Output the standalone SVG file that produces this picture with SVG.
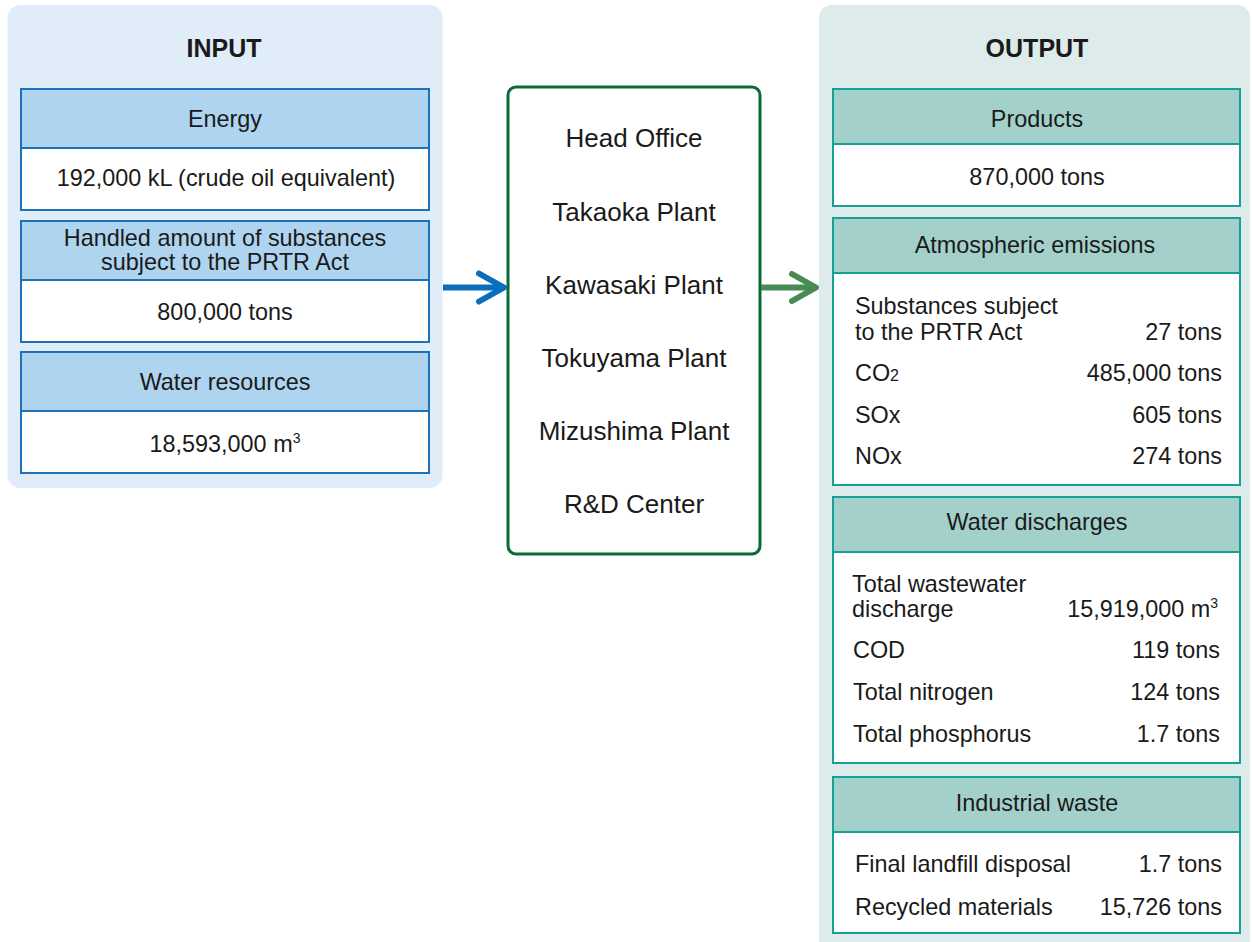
<svg xmlns="http://www.w3.org/2000/svg" width="1252" height="942" viewBox="0 0 1252 942">
<style>
text{font-family:"Liberation Sans",Arial,Helvetica,sans-serif;fill:#1a1a1a;}
.t{font-size:23.4px;}
.c{text-anchor:middle;}
.r{text-anchor:end;}
.title{font-size:25px;font-weight:bold;text-anchor:middle;}
.mid{font-size:26px;text-anchor:middle;}
.inHead{fill:#aed4ef;stroke:#1b72ba;stroke-width:2;}
.inBody{fill:#ffffff;stroke:#1b72ba;stroke-width:2;}
.outHead{fill:#a3d0ca;stroke:#17a096;stroke-width:2;}
.outBody{fill:#ffffff;stroke:#17a096;stroke-width:2;}
.sup{font-size:14px;}
.sub{font-size:16px;}
</style>
<rect width="1252" height="942" fill="#ffffff"/>

<g id="input-panel">
  <rect x="7.5" y="5" width="435" height="483" rx="13" fill="#e0edf8"/>
  <text class="title" x="224" y="57">INPUT</text>
</g>

<g id="energy">
  <rect class="inHead" x="21" y="89" width="408" height="59"/>
  <rect class="inBody" x="21" y="148" width="408" height="62"/>
  <text class="t c" x="225" y="127">Energy</text>
  <text class="t c" x="226" y="186">192,000 kL (crude oil equivalent)</text>
</g>

<g id="prtr">
  <rect class="inHead" x="21" y="221" width="408" height="59"/>
  <rect class="inBody" x="21" y="280" width="408" height="62"/>
  <text class="t c" x="225" y="246">Handled amount of substances</text>
  <text class="t c" x="225" y="270">subject to the PRTR Act</text>
  <text class="t c" x="225" y="320">800,000 tons</text>
</g>

<g id="water-resources">
  <rect class="inHead" x="21" y="352" width="408" height="59"/>
  <rect class="inBody" x="21" y="411" width="408" height="62"/>
  <text class="t c" x="225" y="390">Water resources</text>
  <text class="t c" x="225" y="452">18,593,000 m<tspan class="sup" dy="-9">3</tspan></text>
</g>

<g id="sites">
  <rect x="508" y="87" width="252" height="467" rx="8" fill="#ffffff" stroke="#0b6b38" stroke-width="3"/>
  <text class="mid" x="634" y="147">Head Office</text>
  <text class="mid" x="634" y="221">Takaoka Plant</text>
  <text class="mid" x="634" y="294">Kawasaki Plant</text>
  <text class="mid" x="634" y="367">Tokuyama Plant</text>
  <text class="mid" x="634" y="440">Mizushima Plant</text>
  <text class="mid" x="634" y="513">R&amp;D Center</text>
</g>

<g id="connectors" fill="none" stroke-width="6" stroke-linecap="round" stroke-linejoin="round">
  <path d="M443 287.5 H503" stroke="#0a6ebd" stroke-linecap="butt"/>
  <path d="M479 273.5 L504 287.5 L479 301.5" stroke="#0a6ebd"/>
  <path d="M761 287.5 H815" stroke="#4a8a55" stroke-linecap="butt"/>
  <path d="M792 274 L816 287.5 L792 301" stroke="#4a8a55"/>
</g>

<g id="output-panel">
  <rect x="819" y="5" width="431" height="950" rx="13" fill="#ddecea"/>
  <text class="title" x="1037" y="57">OUTPUT</text>
</g>

<g id="products">
  <rect class="outHead" x="833" y="89" width="407" height="55"/>
  <rect class="outBody" x="833" y="144" width="407" height="62"/>
  <text class="t c" x="1037" y="127">Products</text>
  <text class="t c" x="1037" y="185">870,000 tons</text>
</g>

<g id="atmospheric">
  <rect class="outHead" x="833" y="218" width="407" height="55"/>
  <rect class="outBody" x="833" y="273" width="407" height="212"/>
  <text class="t c" x="1035" y="253">Atmospheric emissions</text>
  <text class="t" x="855" y="314">Substances subject</text>
  <text class="t" x="855" y="340">to the PRTR Act</text>
  <text class="t r" x="1222" y="340">27 tons</text>
  <text class="t" x="855" y="381">CO<tspan class="sub">2</tspan></text>
  <text class="t r" x="1222" y="381">485,000 tons</text>
  <text class="t" x="855" y="423">SOx</text>
  <text class="t r" x="1222" y="423">605 tons</text>
  <text class="t" x="855" y="464">NOx</text>
  <text class="t r" x="1222" y="464">274 tons</text>
</g>

<g id="water-discharges">
  <rect class="outHead" x="833" y="497" width="407" height="55"/>
  <rect class="outBody" x="833" y="552" width="407" height="211"/>
  <text class="t c" x="1037" y="530">Water discharges</text>
  <text class="t" x="852" y="592">Total wastewater</text>
  <text class="t" x="852" y="617">discharge</text>
  <text class="t r" x="1218" y="617">15,919,000 m<tspan class="sup" dy="-9">3</tspan></text>
  <text class="t" x="853" y="658">COD</text>
  <text class="t r" x="1220" y="658">119 tons</text>
  <text class="t" x="853" y="700">Total nitrogen</text>
  <text class="t r" x="1220" y="700">124 tons</text>
  <text class="t" x="853" y="742">Total phosphorus</text>
  <text class="t r" x="1220" y="742">1.7 tons</text>
</g>

<g id="industrial-waste">
  <rect class="outHead" x="833" y="777" width="407" height="55"/>
  <rect class="outBody" x="833" y="832" width="407" height="101"/>
  <text class="t c" x="1037" y="811">Industrial waste</text>
  <text class="t" x="855" y="872">Final landfill disposal</text>
  <text class="t r" x="1222" y="872">1.7 tons</text>
  <text class="t" x="855" y="915">Recycled materials</text>
  <text class="t r" x="1222" y="915">15,726 tons</text>
</g>
</svg>
